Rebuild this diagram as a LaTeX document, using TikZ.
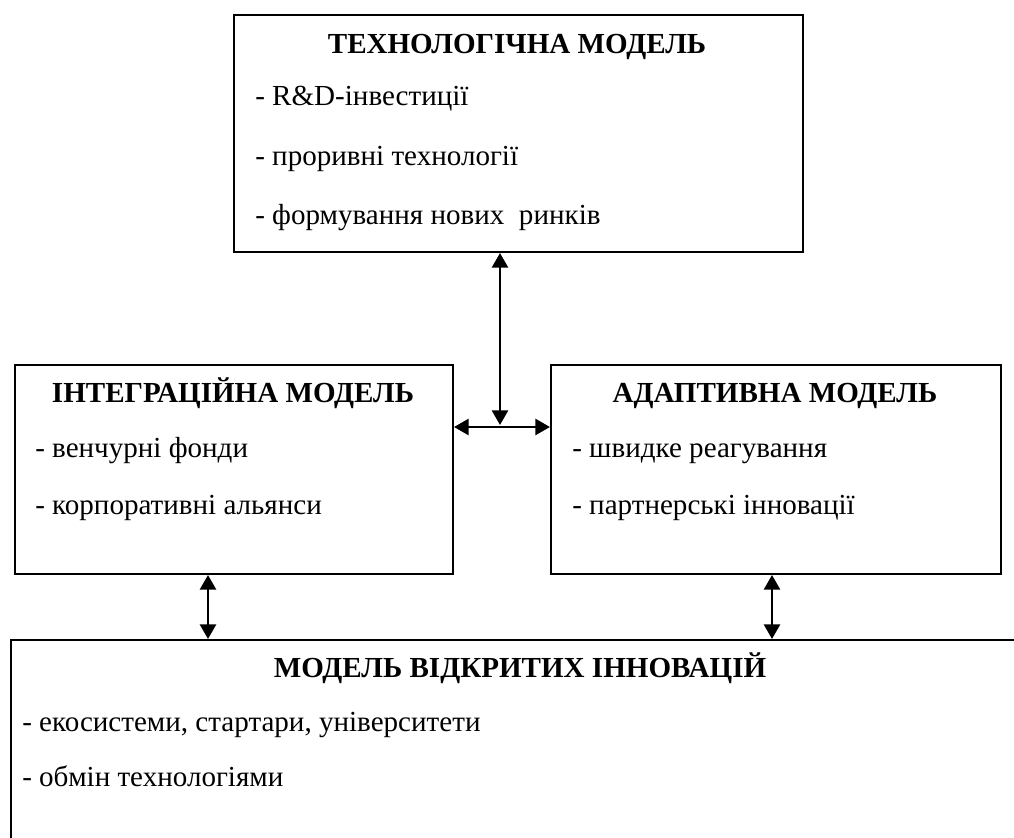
\documentclass[tikz,border=0pt]{standalone}
\usepackage{fontspec}
\setmainfont{Liberation Serif}
\usetikzlibrary{arrows.meta}
\begin{document}
\begin{tikzpicture}[x=0.75pt,y=-0.75pt,
  box/.style={draw,line width=1.5pt,inner sep=0pt,anchor=north west},
  ttl/.style={font=\fontsize{21.8}{24}\selectfont\bfseries,anchor=base,inner sep=0pt},
  itm/.style={font=\fontsize{21.8}{24}\selectfont,anchor=base west,inner sep=0pt},
  link/.style={line width=2pt,{Triangle[length=11pt,width=12pt]}-{Triangle[length=11pt,width=12pt]}}]
\useasboundingbox (0,0) rectangle (1014,838);
\clip (0,0) rectangle (1014,838);
% boxes
\node[box,minimum width=426.75pt,minimum height=177.75pt] (tech) at (233,14) {};
\node[box,minimum width=328.5pt,minimum height=156.75pt] (integ) at (14,364) {};
\node[box,minimum width=337.5pt,minimum height=156.75pt] (adapt) at (550,364) {};
\node[box,minimum width=900pt,minimum height=300pt] (open) at (10,639) {};
% texts
\node[ttl] (t1) at (517,54) {ТЕХНОЛОГІЧНА МОДЕЛЬ};
\node[itm] (t1a) at (255,106) {- R\&D-інвестиції};
\node[itm] (t1b) at (255,166) {- проривні технології};
\node[itm] (t1c) at (255,224) {- формування нових\ \ ринків};
\node[ttl] (t2) at (233,402) {ІНТЕГРАЦІЙНА МОДЕЛЬ};
\node[itm] (t2a) at (35,457) {- венчурні фонди};
\node[itm] (t2b) at (35,514) {- корпоративні альянси};
\node[ttl] (t3) at (775,402) {АДАПТИВНА МОДЕЛЬ};
\node[itm] (t3a) at (572,457) {- швидке реагування};
\node[itm] (t3b) at (572,514) {- партнерські інновації};
\node[ttl] (t4) at (520,677) {МОДЕЛЬ ВІДКРИТИХ ІННОВАЦІЙ};
\node[itm] (t4a) at (22,731) {- екосистеми, стартари, університети};
\node[itm] (t4b) at (22,786) {- обмін технологіями};
% connectors
\coordinate (hm) at (500,427);
\coordinate (hv) at (500,425);
\coordinate (lx) at (208,0);
\coordinate (rx) at (772,0);
\draw[link] (integ.east |- hm) -- (adapt.west |- hm);
\draw[link] (tech.south -| hv) -- (hv);
\draw[link] (integ.south -| lx) -- (open.north -| lx);
\draw[link] (adapt.south -| rx) -- (open.north -| rx);
\end{tikzpicture}
\end{document}
